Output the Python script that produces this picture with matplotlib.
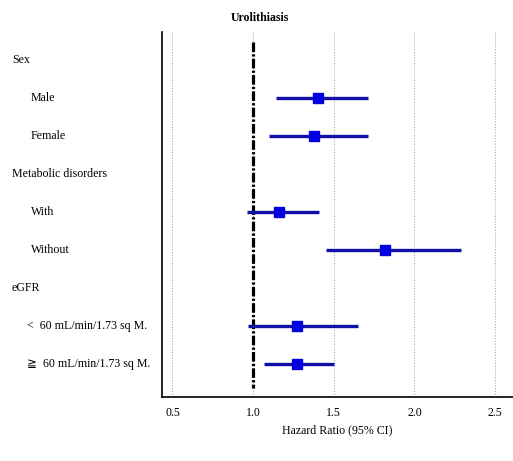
import matplotlib
matplotlib.use("Agg")
import matplotlib.pyplot as plt

labels = ["Sex", "Male", "Female", "Metabolic disorders", "With", "Without",
          "eGFR", "<  60 mL/min/1.73 sq M.", "≧  60 mL/min/1.73 sq M."]
is_header = [True, False, False, True, False, False, True, False, False]
hr = [None, 1.40, 1.38, None, 1.16, 1.82, None, 1.27, 1.27]
lo = [None, 1.14, 1.10, None, 0.96, 1.45, None, 0.97, 1.07]
hi = [None, 1.71, 1.71, None, 1.41, 2.29, None, 1.65, 1.50]
xticks = [0.5, 1.0, 1.5, 2.0, 2.5]
xtick_labels = ["0.5", "1.0", "1.5", "2.0", "2.5"]

fam = ["Liberation Serif", "DejaVu Serif", "DejaVu Sans"]
plt.rcParams["font.family"] = fam
FS = 8.6

fig = plt.figure(figsize=(5.13, 4.61), dpi=100)
ax = fig.add_axes([162 / 513, 0.139, 351 / 513, 0.791])

n = len(labels)
ax.set_ylim(n - 1 + 0.87, -0.737)
ax.set_xlim(0.435, 2.611)

for x in xticks:
    ax.axvline(x, color="#aaaaaa", lw=0.8, ls=(0, (1, 1.5)), zorder=0)

ax.plot([1.0, 1.0], [-0.47, 8.63], color="black", lw=2.3,
        ls=(0, (3.0, 0.7, 0.7, 0.7)), zorder=1)

for i in range(n):
    if hr[i] is None:
        continue
    ax.plot([lo[i], hi[i]], [i, i], color="#1010a8", lw=2.4, solid_capstyle="butt", zorder=2)
    ax.plot(hr[i], i, marker="s", ms=6.6, color="#0000e0", mec="#0000e0", zorder=3)

for i, lab in enumerate(labels):
    xpos = 12 / 513 if is_header[i] else (27 / 513 if lab[0] in "<≧" else 31 / 513)
    ypix = 60 + 38 * i
    fig.text(xpos, 1 - ypix / 461, lab, ha="left", va="center", fontsize=FS, family=fam)

ax.set_xticks(xticks)
ax.set_xticklabels(xtick_labels, fontsize=FS)
ax.tick_params(axis="x", length=0, pad=7)
ax.set_yticks([])
ax.set_xlabel("Hazard Ratio (95% CI)", fontsize=FS, labelpad=4)
ax.spines["top"].set_visible(False)
ax.spines["right"].set_visible(False)
ax.spines["left"].set_linewidth(1.2)
ax.spines["bottom"].set_linewidth(1.2)
fig.text(260 / 513, 1 - 18 / 461, "Urolithiasis", ha="center", va="center",
         fontsize=FS, fontweight="bold", family=fam)

fig.savefig("out.png", dpi=100)
